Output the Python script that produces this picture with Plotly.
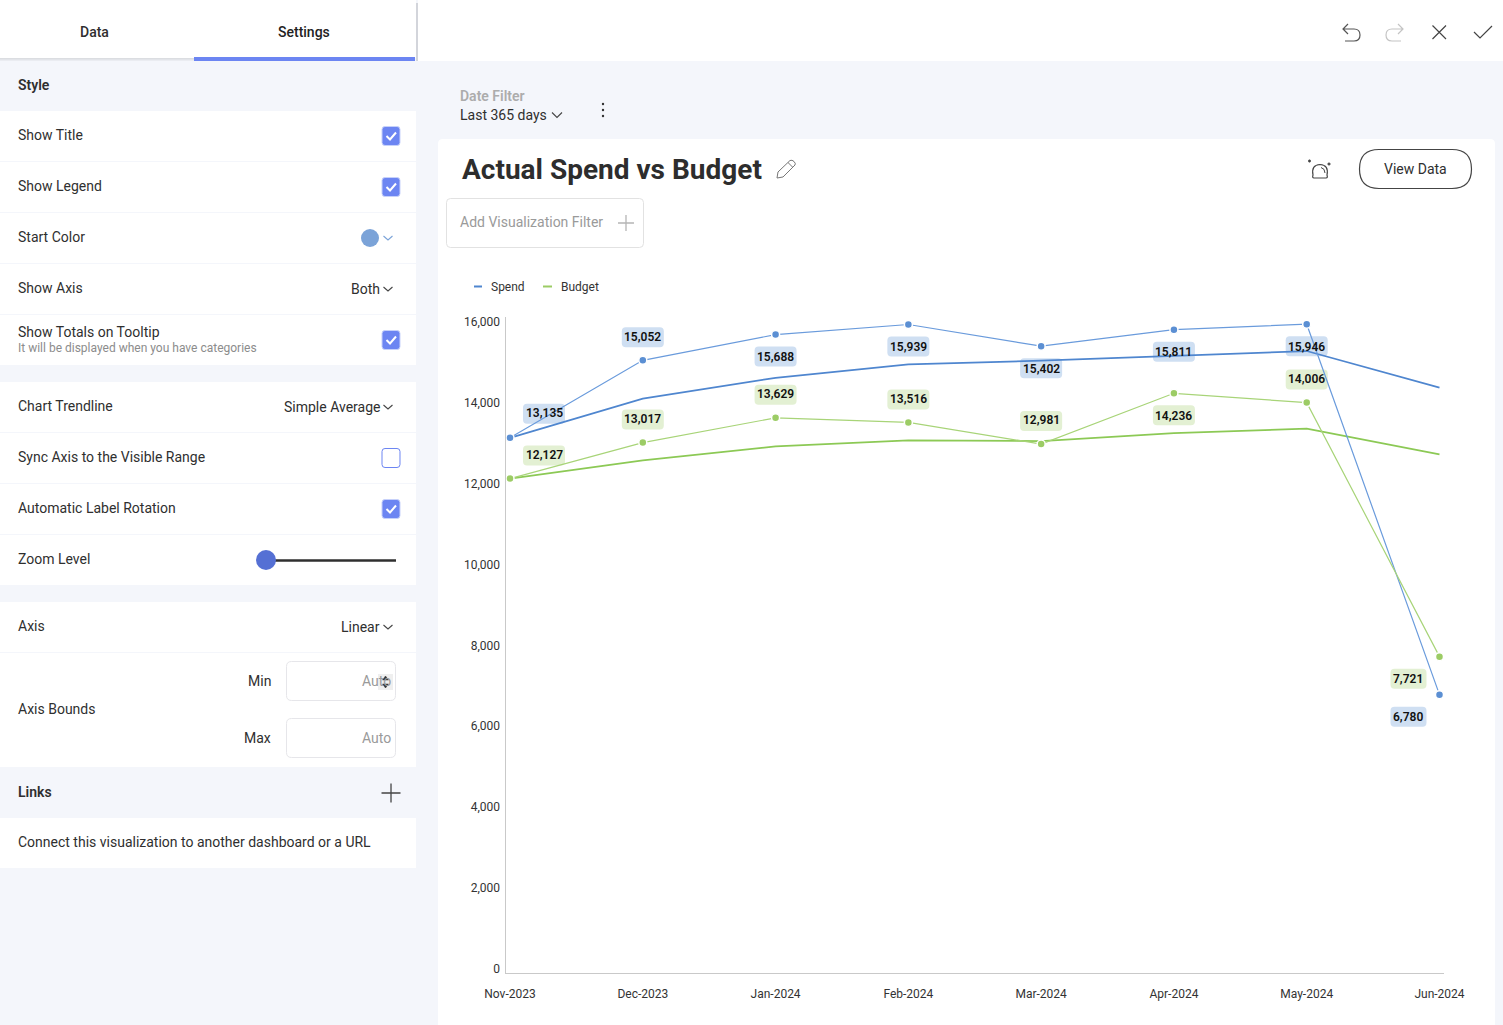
import re
import plotly.graph_objects as go

W = 1503
H = 1025

months = ["Nov-2023", "Dec-2023", "Jan-2024", "Feb-2024", "Mar-2024", "Apr-2024", "May-2024", "Jun-2024"]
spend = [13135, 15052, 15688, 15939, 15402, 15811, 15946, 6780]
budget = [12127, 13017, 13629, 13516, 12981, 14236, 14006, 7721]
spend_trend = [13135, 14105, 14620, 14950, 15045, 15170, 15282, 14375]
budget_trend = [12127, 12578, 12924, 13070, 13055, 13250, 13360, 12726]
y_ticks = [0, 2000, 4000, 6000, 8000, 10000, 12000, 14000, 16000]

# label offsets from the point, pixels (positive dy = up)
spend_dx = [34, 0, 0, 0, 0, 0, 0, -31]
spend_dy = [24, 23, -22, -22, -22, -22, -22, -22]
budget_dx = [34, 0, 0, 0, 0, 0, 0, -31]
budget_dy = [23, 23, 23, 23, 23, -22, 23, -22]

BG = "#f4f6fb"
BLUE = "#6a9bdc"
BLUE_DOT = "#5b8fd3"
BLUE_TREND = "#4f86cf"
GREEN = "#a8d478"
GREEN_DOT = "#9ccc65"
GREEN_TREND = "#8cc955"
ACCENT = "#6c85f2"
FONT = "Roboto"

shapes = []
notes = []


def fx(x):
    return x / W


def fy(y):
    return 1 - y / H


def to_paper(d):
    # path written in page pixels -> paper fractions
    out = []
    is_x = True
    for tok in re.findall(r"[MLQCZ]|-?[\d.]+", d):
        if tok in "MLQCZ":
            out.append(tok)
            is_x = True
        else:
            v = float(tok)
            out.append(f"{fx(v):.5f}" if is_x else f"{fy(v):.5f}")
            is_x = not is_x
    return " ".join(out)


def rect(x0, y0, x1, y1, fill, line=None, lw=1, layer="below"):
    shapes.append(dict(type="rect", xref="paper", yref="paper", x0=fx(x0), x1=fx(x1), y0=fy(y0), y1=fy(y1),
                       fillcolor=fill, line=dict(color=line or fill, width=lw if line else 0), layer=layer))


def rrect(x0, y0, x1, y1, r, fill, line=None, lw=1):
    d = (f"M {x0+r} {y0} L {x1-r} {y0} Q {x1} {y0} {x1} {y0+r} L {x1} {y1-r} Q {x1} {y1} {x1-r} {y1} "
         f"L {x0+r} {y1} Q {x0} {y1} {x0} {y1-r} L {x0} {y0+r} Q {x0} {y0} {x0+r} {y0} Z")
    path(d, line=line or fill, lw=lw if line else 0, fill=fill)


def path(d, line="#333333", lw=1.2, fill="rgba(0,0,0,0)"):
    shapes.append(dict(type="path", xref="paper", yref="paper", path=to_paper(d), fillcolor=fill,
                       line=dict(color=line, width=lw), layer="below"))


def circle(cx, cy, r, fill, line=None):
    shapes.append(dict(type="circle", xref="paper", yref="paper", x0=fx(cx-r), x1=fx(cx+r), y0=fy(cy-r), y1=fy(cy+r),
                       fillcolor=fill, line=dict(color=line or fill, width=1 if line else 0), layer="below"))


def text(x, y, s, size=14, color="#2f2f2f", anchor="left", weight=400):
    notes.append(dict(xref="paper", yref="paper", x=fx(x), y=fy(y), text=s, showarrow=False, xanchor=anchor,
                      yanchor="middle", borderpad=0, borderwidth=0,
                      font=dict(family=FONT, size=size, color=color, weight=weight)))


def chevron(x, y, color="#444444", w=4.5, h=4):
    path(f"M {x-w} {y-h/2} L {x} {y+h/2} L {x+w} {y-h/2}", line=color, lw=1.1)


def checkbox(y, checked=True):
    if checked:
        rrect(382, y-9.5, 400, y+9.5, 3, ACCENT, line="#c7d1fa", lw=1)
        path(f"M 386.5 {y} L 390 {y+3.5} L 396 {y-3.5}", line="#ffffff", lw=2)
    else:
        rrect(382, y-9.5, 400, y+9.5, 3, "#ffffff", line=ACCENT, lw=1)


def plus(x, y, r, color):
    path(f"M {x-r} {y} L {x+r} {y} M {x} {y-r} L {x} {y+r}", line=color, lw=1.3)


# page background and top bar
rect(0, 0, W, H, BG)
rect(418, 0, W, 61, "#ffffff")
rect(0, 0, 416, 58, "#ffffff")
for i, alpha in enumerate([0.10, 0.07, 0.04]):
    rect(0, 58+i, 194, 59+i, f"rgba(0,0,0,{alpha})")
rect(194, 57, 415, 61, ACCENT)
rect(416, 3, 418, 61, "#d3d5db")

# settings panel rows
for y0, y1 in [(111, 161), (162, 212), (213, 263), (264, 314), (315, 365), (382, 432), (433, 483), (484, 534),
               (535, 585), (602, 652), (653, 767), (818, 868)]:
    rect(0, y0, 416, y1, "#ffffff")

text(94, 32, "Data", 14, "#2f2f2f", "center", 500)
text(304, 32, "Settings", 14, "#222222", "center", 500)
text(18, 85, "Style", 14, "#2f2f2f", "left", 600)
text(18, 792, "Links", 14, "#2f2f2f", "left", 600)
for y, s in [(135, "Show Title"), (186, "Show Legend"), (237, "Start Color"), (288, "Show Axis"),
             (332, "Show Totals on Tooltip"), (406, "Chart Trendline"), (457, "Sync Axis to the Visible Range"),
             (508, "Automatic Label Rotation"), (559, "Zoom Level"), (626, "Axis"), (709, "Axis Bounds"),
             (842, "Connect this visualization to another dashboard or a URL")]:
    text(18, y, s, 14)
text(18, 348, "It will be displayed when you have categories", 12, "#8c8c8c")

for y in [136, 187, 340, 509]:
    checkbox(y)
checkbox(458, False)

circle(370, 238, 9, "#7ba3d8")
chevron(388, 238, "#7ba3d8")
for y, s in [(289, "Both"), (407, "Simple Average"), (627, "Linear")]:
    text(380, y, s, 14, anchor="right")
    chevron(388, y)

# zoom slider
path("M 266 560.5 L 396 560.5", line="#2f2f2f", lw=2.5)
circle(266, 560, 10, "#5570d4")

# axis bounds inputs
text(271, 681, "Min", 14, anchor="right")
text(271, 738, "Max", 14, anchor="right")
rrect(286.5, 661.5, 395.5, 700.5, 5, "#ffffff", line="#e6e6ea")
rrect(286.5, 718.5, 395.5, 757.5, 5, "#ffffff", line="#e6e6ea")
text(391, 681, "Auto", 14, "#9a9a9a", "right")
text(391, 738, "Auto", 14, "#9a9a9a", "right")
rect(378, 674, 393, 690, "rgba(235,235,235,0.8)")
path("M 385.5 676 L 388.5 680 L 382.5 680 Z", line="#333333", lw=0.5, fill="#333333")
path("M 385.5 688 L 388.5 684 L 382.5 684 Z", line="#333333", lw=0.5, fill="#333333")
plus(391, 793, 9.5, "#444444")

# top right icons
path("M 1348 24 L 1343 29 L 1348 34 M 1343 29 L 1354 29 Q 1360 29 1360 35 Q 1360 41 1354 41 L 1345 41",
     line="#555555")
path("M 1398 24 L 1403 29 L 1398 34 M 1403 29 L 1392 29 Q 1386 29 1386 35 Q 1386 41 1392 41 L 1401 41",
     line="#c4c4c4")
path("M 1432.5 25.5 L 1446 39 M 1446 25.5 L 1432.5 39", line="#444444")
path("M 1474 32 L 1480 38 L 1492 26", line="#444444")

# date filter
text(460, 96, "Date Filter", 14, "#acacac", "left", 600)
text(460, 115.5, "Last 365 days", 14, "#2f2f2f")
chevron(557, 115, "#444444", 5, 5)
for y in [104, 110, 116]:
    circle(603, y, 1.2, "#333333")

# card
rrect(438, 139, 1495, 1040, 5, "#ffffff")
text(462, 169, "Actual Spend vs Budget", 28, "#2d2d2d", "left", 700)
path("M 778 172 L 790 160.5 Q 792 159.5 794 161.5 Q 796 163.5 795 165 L 783 177 L 777 178 Z M 788 162.5 L 793 167.5",
     line="#777777", lw=1)
rrect(446.5, 198.5, 643.5, 247.5, 4, "#ffffff", line="#e2e2e2")
text(460, 222.5, "Add Visualization Filter", 14, "#9a9a9a")
plus(626, 223, 8, "#b5b5b5")
rrect(1359.5, 149.5, 1471.5, 188.5, 19.5, "#ffffff", line="#444444", lw=1.2)
text(1415, 169, "View Data", 14, "#2f2f2f", "center")

# alert icon
path("M 1313 175 Q 1311 165 1320 164.5 Q 1329 165 1327 175 Q 1328 178 1326 178 L 1314 178 Q 1312 178 1313 175 Z",
     line="#444444", lw=1.2)
path("M 1321 167.5 Q 1325 168.5 1325 173", line="#444444", lw=1)
plus(1309.5, 161, 1.5, "#444444")
plus(1329, 164, 1.5, "#444444")

# legend
path("M 474 286.5 L 482 286.5", line=BLUE_TREND, lw=2)
text(491, 286.5, "Spend", 12, "#333333")
path("M 543 286.5 L 552 286.5", line=GREEN_DOT, lw=2)
text(561, 286.5, "Budget", 12, "#333333")


def add_labels(values, dxs, dys, box):
    for i, v in enumerate(values):
        s = f"{v:,}"
        hw = 21 if len(s) > 5 else 18
        dx, dy = dxs[i], dys[i]
        x0, x1, y0, y1, r = dx-hw, dx+hw, dy-10, dy+10, 4
        d = (f"M {x0+r} {y0} L {x1-r} {y0} Q {x1} {y0} {x1} {y0+r} L {x1} {y1-r} Q {x1} {y1} {x1-r} {y1} "
             f"L {x0+r} {y1} Q {x0} {y1} {x0} {y1-r} L {x0} {y0+r} Q {x0} {y0} {x0+r} {y0} Z")
        shapes.append(dict(type="path", xref="x", yref="y", xsizemode="pixel", ysizemode="pixel", xanchor=i, yanchor=v,
                           path=d, fillcolor=box, line=dict(width=0), layer="below"))
        nudge = 0.7 if dy > 0 else -0.4
        notes.append(dict(xref="x", yref="y", x=i, y=v, xshift=dx, yshift=dy+nudge, text=s, showarrow=False,
                          xanchor="center", yanchor="middle", borderpad=0, borderwidth=0,
                          font=dict(family=FONT, size=12, color="#111111", weight=600)))


add_labels(spend, spend_dx, spend_dy, "#cfdff2")
add_labels(budget, budget_dx, budget_dy, "#e3f0d3")

x_idx = list(range(len(months)))
fig = go.Figure()
fig.add_trace(go.Scatter(x=x_idx, y=spend_trend, mode="lines", line=dict(color=BLUE_TREND, width=1.7), name="Spend trend"))
fig.add_trace(go.Scatter(x=x_idx, y=budget_trend, mode="lines", line=dict(color=GREEN_TREND, width=1.7), name="Budget trend"))
fig.add_trace(go.Scatter(x=x_idx, y=spend, mode="lines+markers", name="Spend", line=dict(color=BLUE, width=1.2),
                         marker=dict(size=8, color=BLUE_DOT, line=dict(color="#ffffff", width=1.5))))
fig.add_trace(go.Scatter(x=x_idx, y=budget, mode="lines+markers", name="Budget", line=dict(color=GREEN, width=1.2),
                         marker=dict(size=8, color=GREEN_DOT, line=dict(color="#ffffff", width=1.5))))

fig.update_layout(
    width=W, height=H, margin=dict(l=0, r=0, t=0, b=0, autoexpand=False), showlegend=False,
    paper_bgcolor=BG, plot_bgcolor="rgba(0,0,0,0)", shapes=shapes, annotations=notes,
    font=dict(family=FONT),
)
fig.update_xaxes(domain=[fx(505.5), fx(1444)], range=[-0.034, 7.034], tickvals=x_idx, ticktext=months, showgrid=False,
                 zeroline=False, showline=True, linecolor="#c9c9c9", linewidth=1, ticks="outside", ticklen=10,
                 tickcolor="rgba(0,0,0,0)", tickfont=dict(family=FONT, size=12, color="#333333"))
fig.update_yaxes(domain=[fy(973), fy(317)], range=[-106, 16124], tickvals=y_ticks, tickformat=",", showgrid=False,
                 zeroline=False, showline=True, linecolor="#c9c9c9", linewidth=1, ticks="outside", ticklen=2,
                 tickcolor="rgba(0,0,0,0)", tickfont=dict(family=FONT, size=12, color="#333333"))

fig.write_html("out.html", config={"displayModeBar": False},
               post_script="document.body.style.margin='0';document.body.style.overflow='hidden';")
